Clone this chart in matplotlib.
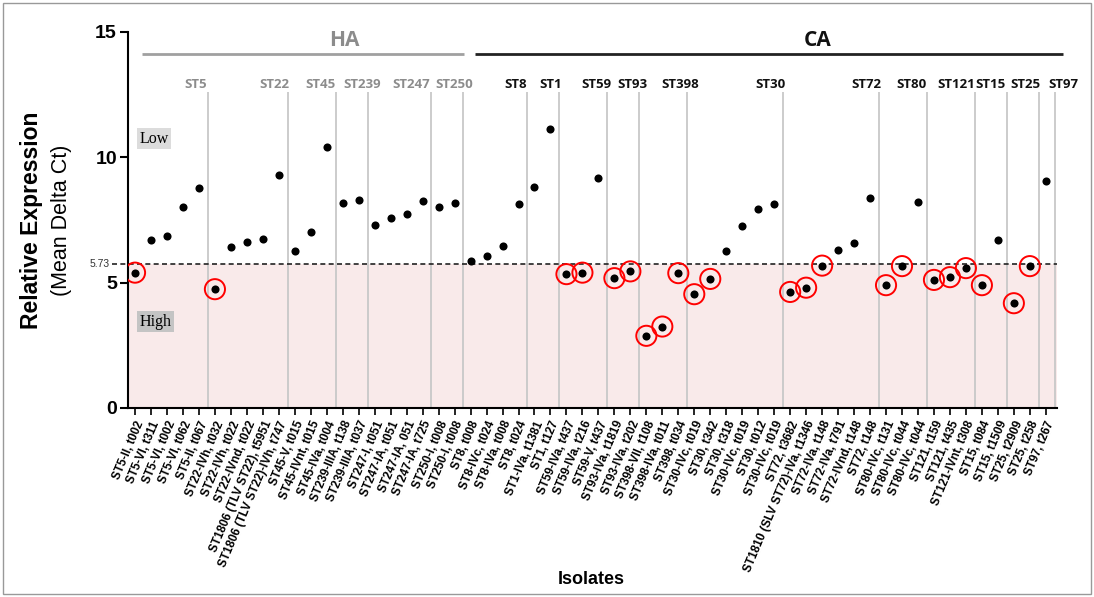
import matplotlib.pyplot as plt
import numpy as np
from matplotlib.patches import Rectangle

# data
threshold = 5.73
groups = ['ST5', 'ST22', 'ST45', 'ST239', 'ST247', 'ST250', 'ST8', 'ST1', 'ST59',
          'ST93', 'ST398', 'ST30', 'ST72', 'ST80', 'ST121', 'ST15', 'ST25', 'ST97']
group_sizes = [5, 5, 3, 2, 4, 2, 4, 2, 3, 2, 3, 6, 6, 3, 3, 2, 2, 1]
n_ha = 6  # first six lineages are hospital associated

isolates = [
    'ST5-II, t002', 'ST5-VI, t311', 'ST5-VI, t002', 'ST5-VI, t062', 'ST5-II, t067',
    'ST22-IVh, t032', 'ST22-IVh, t022', 'ST22-IVnd, t022', 'ST1806 (TLV ST22), t5951',
    'ST1806 (TLV ST22)-IVh, t747',
    'ST45-V, t015', 'ST45-IVnt, t015', 'ST45-IVa, t004',
    'ST239-IIIA, t138', 'ST239-IIIA, t037',
    'ST247-I, t051', 'ST247-IA, t051', 'ST247-IA, 051', 'ST247-IA, t725',
    'ST250-I, t008', 'ST250-I, t008',
    'ST8, t008', 'ST8-IVc, t024', 'ST8-IVa, t008', 'ST8, t024',
    'ST1-IVa, t1381', 'ST1, t127',
    'ST59-IVa, t437', 'ST59-IVa, t216', 'ST59-V, t437',
    'ST93-IVa, t1819', 'ST93-IVa, t202',
    'ST398-VII, t108', 'ST398-IVa, t011', 'ST398, t034',
    'ST30-IVc, t019', 'ST30, t342', 'ST30, t318', 'ST30-IVc, t019', 'ST30, t012', 'ST30-IVc, t019',
    'ST72, t3682', 'ST1810 (SLV ST72)-IVa, t1346', 'ST72-IVa, t148', 'ST72-IVa, t791',
    'ST72-IVnd, t148', 'ST72, t148',
    'ST80-IVc, t131', 'ST80-IVc, t044', 'ST80-IVc, t044',
    'ST121, t159', 'ST121, t435', 'ST121-IVnt, t308',
    'ST15, t084', 'ST15, t1509',
    'ST25, t2909', 'ST25, t258',
    'ST97, t267']

delta_ct = [5.40, 6.69, 6.86, 8.03, 8.76, 4.74, 6.44, 6.61, 6.76, 9.29,
            6.25, 7.04, 10.41, 8.19, 8.29, 7.30, 7.59, 7.73, 8.26, 8.03,
            8.17, 5.85, 6.08, 6.48, 8.14, 8.83, 11.12, 5.34, 5.40, 9.16,
            5.18, 5.45, 2.88, 3.25, 5.38, 4.54, 5.15, 6.25, 7.26, 7.95,
            8.13, 4.63, 4.80, 5.68, 6.29, 6.59, 8.38, 4.90, 5.66, 8.22,
            5.11, 5.22, 5.58, 4.90, 6.71, 4.18, 5.66, 9.06]

plt.rcParams['font.family'] = ['Liberation Sans', 'DejaVu Sans']
head_font = ['Open Sans', 'DejaVu Sans']

fig = plt.figure(figsize=(10.94, 5.97), dpi=100)
ax = fig.add_axes([128/1094, 1-408/597, (1057-128)/1094, (408-32)/597])

x = np.arange(len(delta_ct))
y = np.array(delta_ct)
ax.set_xlim(-0.44, 57.7)
ax.set_ylim(0, 15)

# high expression zone + cut-off
ax.axhspan(0, threshold, color='#f9eaea', zorder=0, lw=0)
ax.plot([-1.45, 57.7], [threshold, threshold], ls='--', dashes=(3, 2), color='#222222',
        lw=1.2, clip_on=False, zorder=2)
ax.text(-1.6, threshold, '5.73', ha='right', va='center', fontsize=7.5, color='#333333')

# lineage separators and names
ends = np.cumsum(group_sizes) - 1
ax.vlines(ends + 0.55, 0, 12.6, color='#c8c8c8', lw=1.3, zorder=1)
label_x = [3.8, 8.7, 11.6, 14.2, 17.3, 20.0, 23.85, 26.0, 28.9, 31.15, 34.1,
           39.8, 45.8, 48.6, 51.4, 53.55, 55.7, 58.1]
for i, (g, lx) in enumerate(zip(groups, label_x)):
    col = '#8c8c8c' if i < n_ha else '#111111'
    ax.text(lx, 12.9, g, ha='center', va='center', fontsize=9.5, fontweight='bold',
            color=col, family=head_font, clip_on=False)

# HA / CA headers
ax.plot([0.44, 20.59], [14.12, 14.12], color='#a0a0a0', lw=2, clip_on=False, solid_capstyle='butt')
ax.plot([21.28, 58.07], [14.12, 14.12], color='#222222', lw=2, clip_on=False, solid_capstyle='butt')
ax.text(13.1, 14.67, 'HA', ha='center', va='center', fontsize=15, fontweight='bold',
        color='#8c8c8c', family=head_font)
ax.text(42.7, 14.67, 'CA', ha='center', va='center', fontsize=15, fontweight='bold',
        color='#111111', family=head_font)

# points
ax.scatter(x, y, s=34, c='black', zorder=3, lw=0)
low = y < threshold
ax.scatter(x[low], y[low], s=14.5**2, facecolors='none', edgecolors='red', linewidths=1.4, zorder=4)

# Low / High tags
ax.text(0.3, 10.75, 'Low', ha='left', va='center', fontsize=11.5, family='Liberation Serif',
        bbox=dict(boxstyle='square,pad=0.15', fc='#dcdcdc', ec='none'))
ax.text(0.3, 3.45, 'High', ha='left', va='center', fontsize=11.5, family='Liberation Serif',
        bbox=dict(boxstyle='square,pad=0.15', fc='#c4c4c4', ec='none'))

# axes styling
ax.spines['top'].set_visible(False)
ax.spines['right'].set_visible(False)
ax.spines['left'].set_linewidth(1.5)
ax.spines['bottom'].set_linewidth(1.5)
ax.set_yticks([0, 5, 10, 15])
ax.tick_params(axis='y', labelsize=14, length=6, width=1.5, pad=2)
for t in ax.get_yticklabels():
    t.set_fontweight('bold')
ax.set_xticks(x)
ax.set_xticklabels(isolates, rotation=67, ha='right', rotation_mode='anchor',
                   fontsize=8.5, fontweight='bold')
ax.tick_params(axis='x', length=5, width=1.2, pad=3)

fig.text(32/1094, 1-220/597, 'Relative Expression', rotation=90, ha='center', va='center',
         fontsize=16.5, fontweight='bold')
fig.text(61/1094, 1-220/597, '(Mean Delta Ct)', rotation=90, ha='center', va='center',
         fontsize=15.5)
fig.text(591/1094, 1-580/597, 'Isolates', ha='center', va='center', fontsize=13, fontweight='bold')

fig.patches.append(Rectangle((0.003, 0.005), 0.994, 0.99, transform=fig.transFigure,
                             fill=False, edgecolor='#999999', lw=1))

plt.savefig('out.png', dpi=100)
